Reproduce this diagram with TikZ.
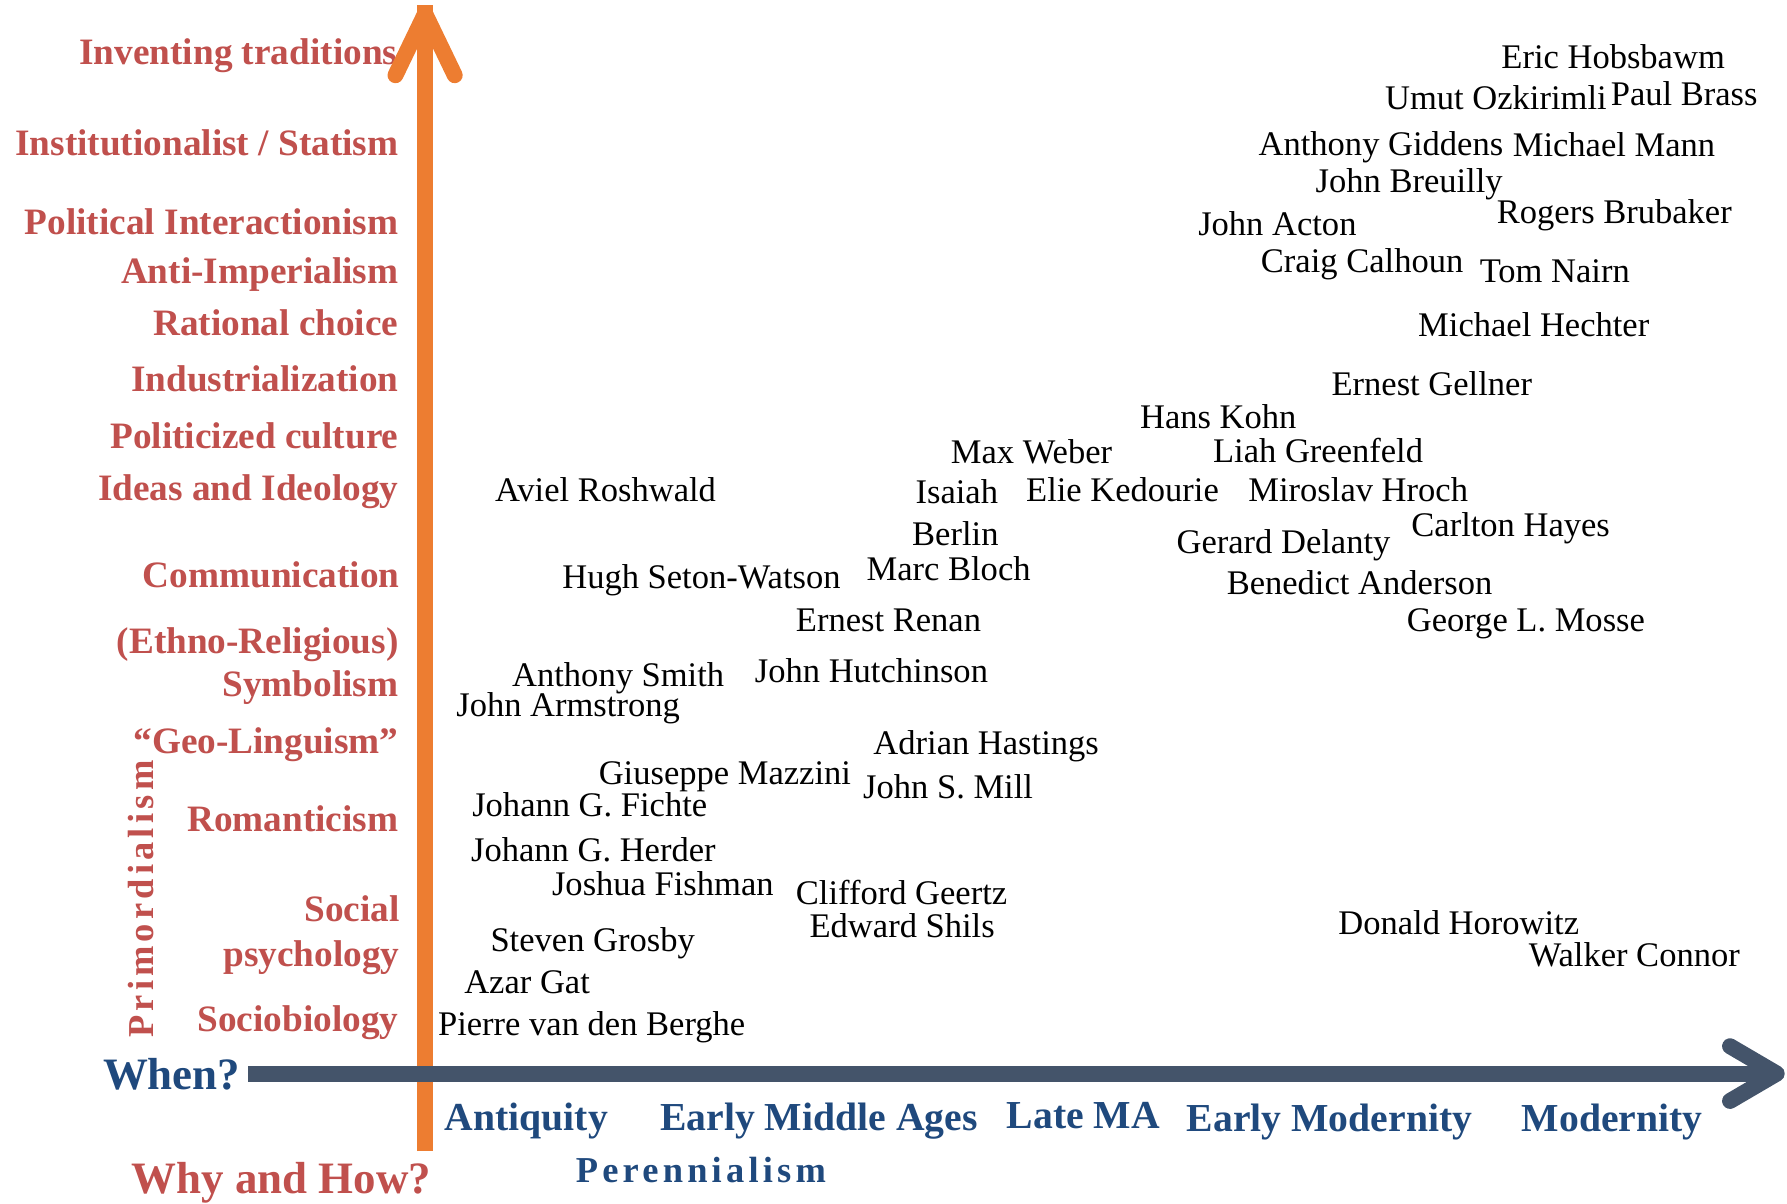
\documentclass[tikz,border=0pt]{standalone}
\usepackage{fontspec}
\setmainfont{Liberation Serif}
\definecolor{lred}{HTML}{C0504D}
\definecolor{lorange}{HTML}{ED7D31}
\definecolor{lblue}{HTML}{1F497D}
\definecolor{laxis}{HTML}{44546A}
\begin{document}
\begin{tikzpicture}[x=0.5pt,y=-0.5pt,
  author/.style={anchor=west,inner sep=0pt,text height=0.66em,text depth=0pt,yshift=-2.2pt,font=\fontsize{15.15}{18}\selectfont},
  theory/.style={anchor=east,inner sep=0pt,text height=0.66em,text depth=0pt,yshift=-2.4pt,text=lred,font=\fontsize{16.35}{19}\selectfont\bfseries},
  period/.style={anchor=west,inner sep=0pt,text height=0.66em,text depth=0pt,yshift=-2.5pt,text=lblue,font=\fontsize{17.4}{20}\selectfont\bfseries},
  question/.style={anchor=west,inner sep=0pt,text height=0.66em,text depth=0pt,yshift=-3pt,font=\fontsize{19.7}{22}\selectfont\bfseries},
  spaced/.style={inner sep=0pt,text height=0.66em,text depth=0pt,font=\fontsize{16}{19}\selectfont\bfseries\addfontfeature{LetterSpace=11.5}},
  axisline/.style={line width=7pt,line cap=butt},
  axishead/.style={line width=7pt,line cap=round,line join=round}
]
\useasboundingbox (0,0) rectangle (1568,1056);

% theory labels
\node[theory] (t1) at (349,45) {Inventing traditions};
\node[theory] (t2) at (350,125) {Institutionalist / Statism};
\node[theory] (t3) at (350,194) {Political Interactionism};
\node[theory] (t4) at (350,237) {Anti-Imperialism};
\node[theory] (t5) at (350,283) {Rational choice};
\node[theory] (t6) at (350,332) {Industrialization};
\node[theory] (t7) at (350,382) {Politicized culture};
\node[theory] (t8) at (350,428) {Ideas and Ideology};
\node[theory] (t9) at (351,504) {Communication};
\node[theory] (t10) at (350,562) {(Ethno-Religious)};
\node[theory] (t11) at (350,600) {Symbolism};
\node[theory] (t12) at (350,650) {“Geo-Linguism”};
\node[theory] (t13) at (350,718) {Romanticism};
\node[theory] (t14) at (351,797) {Social};
\node[theory] (t15) at (351,837) {psychology};
\node[theory] (t16) at (350,894) {Sociobiology};

\node[spaced,text=lred,rotate=90] (prim) at (128,789) {Primordialism};
\node[spaced,text=lblue,yshift=-2.5pt] (peren) at (615,1026) {Perennialism};

% questions
\node[question,text=lblue] (when) at (90,943) {When?};
\node[question,text=lred,yshift=-0.6pt] (why) at (115,1033) {Why and How?};

% periods
\node[period] (p1) at (390,980) {Antiquity};
\node[period] (p2) at (579,980) {Early Middle Ages};
\node[period] (p3) at (883,979) {Late MA};
\node[period] (p4) at (1041,981) {Early Modernity};
\node[period] (p5) at (1335,981) {Modernity};

% authors
\node[author] (a1) at (1317,49) {Eric Hobsbawm};
\node[author] (a2) at (1215,85) {Umut Ozkirimli};
\node[author] (a3) at (1413,82) {Paul Brass};
\node[author] (a4) at (1104,125) {Anthony Giddens};
\node[author] (a5) at (1327,126) {Michael Mann};
\node[author] (a6) at (1154,158) {John Breuilly};
\node[author] (a7) at (1313,185) {Rogers Brubaker};
\node[author] (a8) at (1051,196) {John Acton};
\node[author] (a9) at (1106,228) {Craig Calhoun};
\node[author] (a10) at (1298,237) {Tom Nairn};
\node[author] (a11) at (1244,284) {Michael Hechter};
\node[author] (a12) at (1168,336) {Ernest Gellner};
\node[author] (a13) at (1000,365) {Hans Kohn};
\node[author] (a14) at (834,396) {Max Weber};
\node[author] (a15) at (1064,395) {Liah Greenfeld};
\node[author] (a16) at (803,431) {Isaiah};
\node[author] (a17) at (900,429) {Elie Kedourie};
\node[author] (a18) at (1095,429) {Miroslav Hroch};
\node[author] (a19) at (434,429) {Aviel Roshwald};
\node[author] (a20) at (800,468) {Berlin};
\node[author] (a21) at (1032,475) {Gerard Delanty};
\node[author] (a22) at (1238,460) {Carlton Hayes};
\node[author] (a23) at (760,498) {Marc Bloch};
\node[author] (a24) at (493,505) {Hugh Seton-Watson};
\node[author] (a25) at (1076,511) {Benedict Anderson};
\node[author] (a26) at (698,543) {Ernest Renan};
\node[author] (a27) at (1234,543) {George L. Mosse};
\node[author] (a28) at (449,591) {Anthony Smith};
\node[author] (a29) at (662,588) {John Hutchinson};
\node[author] (a30) at (400,618) {John Armstrong};
\node[author] (a31) at (766,651) {Adrian Hastings};
\node[author] (a32) at (525,677) {Giuseppe Mazzini};
\node[author] (a33) at (757,690) {John S. Mill};
\node[author] (a34) at (414,705) {Johann G. Fichte};
\node[author] (a35) at (413,745) {Johann G. Herder};
\node[author] (a36) at (484,775) {Joshua Fishman};
\node[author] (a37) at (698,783) {Clifford Geertz};
\node[author] (a38) at (710,812) {Edward Shils};
\node[author] (a39) at (1174,809) {Donald Horowitz};
\node[author] (a40) at (1341,837) {Walker Connor};
\node[author] (a41) at (430,824) {Steven Grosby};
\node[author] (a42) at (407,861) {Azar Gat};
\node[author] (a43) at (384,898) {Pierre van den Berghe};

% vertical axis (why and how)
\coordinate (vbot) at (373,1010);
\coordinate (vtip) at (373,12);
\coordinate (vwl) at (347,66);
\coordinate (vwr) at (399,66);
\draw[lorange,axisline] (vbot) -- ([yshift=4]vtip);
\draw[lorange,axishead] (vwl) -- (vtip) -- (vwr);

% horizontal axis (when)
\coordinate (hleft) at (218,942);
\coordinate (htip) at (1559,942);
\coordinate (hwu) at (1518,918);
\coordinate (hwd) at (1518,966);
\draw[laxis,axisline] (hleft) -- ([xshift=-4]htip);
\draw[laxis,axishead] (hwu) -- (htip) -- (hwd);
\end{tikzpicture}
\end{document}
